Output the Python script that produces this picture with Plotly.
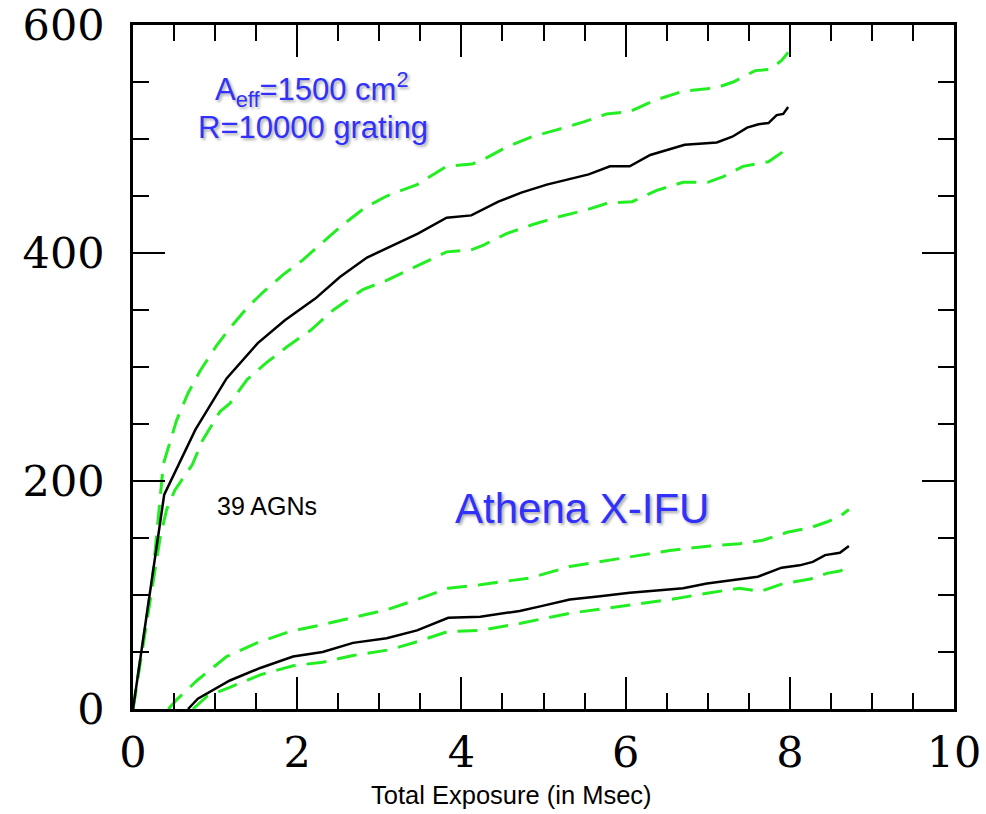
import plotly.graph_objects as go

# Upper set (R=10000 grating)
grat_x = [0, 0.38, 0.76, 1.14, 1.52, 1.85, 2.22, 2.52, 2.85, 3.17, 3.47, 3.82, 4.12, 4.45, 4.73, 5.04, 5.26,
          5.55, 5.81, 6.05, 6.30, 6.50, 6.72, 6.94, 7.11, 7.30, 7.48, 7.62, 7.74, 7.84, 7.92, 7.98]
grat_y = [0, 188, 245, 290, 321, 341, 360, 379, 396, 407, 417, 431, 433, 445, 453, 460, 464,
          469, 476, 476, 486, 490, 495, 496, 497, 502, 510, 513, 514, 521, 522, 528]

grat_hi_x = [0, 0.24, 0.37, 0.53, 0.67, 0.82, 1.02, 1.18, 1.39, 1.59, 1.83, 2.07, 2.32, 2.56, 2.83, 3.09,
             3.46, 3.82, 4.13, 4.27, 4.55, 4.86, 5.16, 5.49, 5.77, 6.05, 6.36, 6.70, 6.99, 7.15, 7.31,
             7.58, 7.76, 7.90, 7.98]
grat_hi_y = [0, 116, 215, 253, 277, 297, 319, 334, 352, 366, 381, 394, 410, 425, 440, 450,
             460, 476, 478, 482, 493, 502, 508, 515, 522, 524, 534, 542, 544, 546, 550,
             560, 561, 569, 576]

grat_lo_x = [0, 0.24, 0.33, 0.41, 0.51, 0.72, 0.85, 1.06, 1.18, 1.39, 1.63, 1.88, 2.16, 2.44, 2.80, 3.09,
             3.41, 3.82, 4.13, 4.27, 4.55, 4.87, 5.20, 5.53, 5.79, 6.08, 6.38, 6.70, 7.00, 7.19, 7.43,
             7.74, 7.90, 7.98]
grat_lo_y = [0, 112, 150, 175, 192, 214, 236, 261, 268, 289, 304, 318, 332, 350, 368, 376,
             387, 401, 403, 407, 417, 425, 432, 438, 444, 445, 455, 462, 462, 467, 476,
             480, 488, 494]

# Lower set (Athena X-IFU)
ifu_x = [0.67, 0.79, 1.18, 1.55, 1.95, 2.31, 2.68, 3.09, 3.46, 3.84, 4.23, 4.71, 4.96, 5.32, 5.69, 6.05,
         6.38, 6.70, 6.99, 7.31, 7.61, 7.90, 8.12, 8.28, 8.43, 8.61, 8.72]
ifu_y = [0, 9, 25, 36, 46, 50, 58, 62, 69, 80, 81, 86, 90, 96, 99, 102,
         104, 106, 110, 113, 116, 124, 126, 129, 135, 137, 143]

ifu_hi_x = [0.43, 0.53, 0.78, 1.14, 1.51, 1.91, 2.31, 2.73, 3.09, 3.46, 3.84, 4.23, 4.84, 5.32, 5.93,
            6.54, 7.03, 7.39, 7.67, 7.97, 8.25, 8.45, 8.61, 8.72]
ifu_hi_y = [0, 8, 25, 46, 58, 68, 74, 81, 87, 96, 106, 109, 115, 125, 132,
            139, 143, 145, 148, 155, 159, 164, 169, 175]

ifu_lo_x = [0.73, 0.90, 1.18, 1.55, 1.95, 2.31, 2.68, 3.13, 3.46, 3.84, 4.23, 4.71, 5.32, 5.93, 6.54,
            7.03, 7.39, 7.64, 7.92, 8.25, 8.45, 8.61, 8.71]
ifu_lo_y = [0, 11, 19, 30, 38, 41, 47, 52, 59, 68, 69, 75, 84, 90, 96,
            102, 106, 103, 110, 114, 119, 121, 124]

x_ticks = [0, 2, 4, 6, 8, 10]
y_ticks = [0, 200, 400, 600]

GREEN = "#22ee22"
BLUE = "#3030ff"

fig = go.Figure()
solid = dict(color="black", width=2.5)
dashed = dict(color=GREEN, width=3, dash="20px,11px")

for xs, ys, ln in [(grat_hi_x, grat_hi_y, dashed), (grat_lo_x, grat_lo_y, dashed), (grat_x, grat_y, solid),
                   (ifu_hi_x, ifu_hi_y, dashed), (ifu_lo_x, ifu_lo_y, dashed), (ifu_x, ifu_y, solid)]:
    fig.add_trace(go.Scatter(x=xs, y=ys, mode="lines", line=ln, showlegend=False, hoverinfo="skip"))

axis_common = dict(
    showgrid=False, zeroline=False, showline=True, linecolor="black", linewidth=2.5,
    mirror="ticks", ticks="inside", ticklen=32, tickwidth=2, tickcolor="black",
    automargin=False,
    tickfont=dict(family="DejaVu Serif", size=43, color="black"),
)

fig.update_layout(
    width=986, height=814,
    margin=dict(l=133, r=32, t=25, b=105),
    paper_bgcolor="white", plot_bgcolor="white",
    xaxis=dict(range=[0, 10], tickvals=x_ticks, ticklabelstandoff=4,
               minor=dict(dtick=0.5, ticklen=16, tickwidth=2, tickcolor="black", ticks="inside"),
               **axis_common),
    yaxis=dict(range=[0, 600], tickvals=y_ticks, ticklabelstandoff=17,
               minor=dict(dtick=50, ticklen=16, tickwidth=2, tickcolor="black", ticks="inside"),
               **axis_common),
)

shadow = "2px 2px 3px rgba(0,0,0,0.35)"
fig.add_annotation(x=2.18, y=543, xref="x", yref="y", showarrow=False,
                   text="A<sub>eff</sub>=1500 cm<sup>2</sup>",
                   font=dict(family="Liberation Sans", size=31, color=BLUE, shadow=shadow))
fig.add_annotation(x=2.19, y=510, xref="x", yref="y", showarrow=False,
                   text="R=10000 grating",
                   font=dict(family="Liberation Sans", size=31, color=BLUE, shadow=shadow))
fig.add_annotation(x=5.47, y=176, xref="x", yref="y", showarrow=False,
                   text="Athena X-IFU",
                   font=dict(family="Liberation Sans", size=42, color=BLUE, shadow=shadow))
fig.add_annotation(x=1.63, y=178, xref="x", yref="y", showarrow=False,
                   text="39 AGNs",
                   font=dict(family="Liberation Sans", size=25, color="black"))
fig.add_annotation(x=0.4616, y=-0.149, xref="paper", yref="paper", showarrow=False,
                   text="Total Exposure (in Msec)",
                   font=dict(family="Liberation Sans", size=25.5, color="black"))

fig.write_html("out.html")
